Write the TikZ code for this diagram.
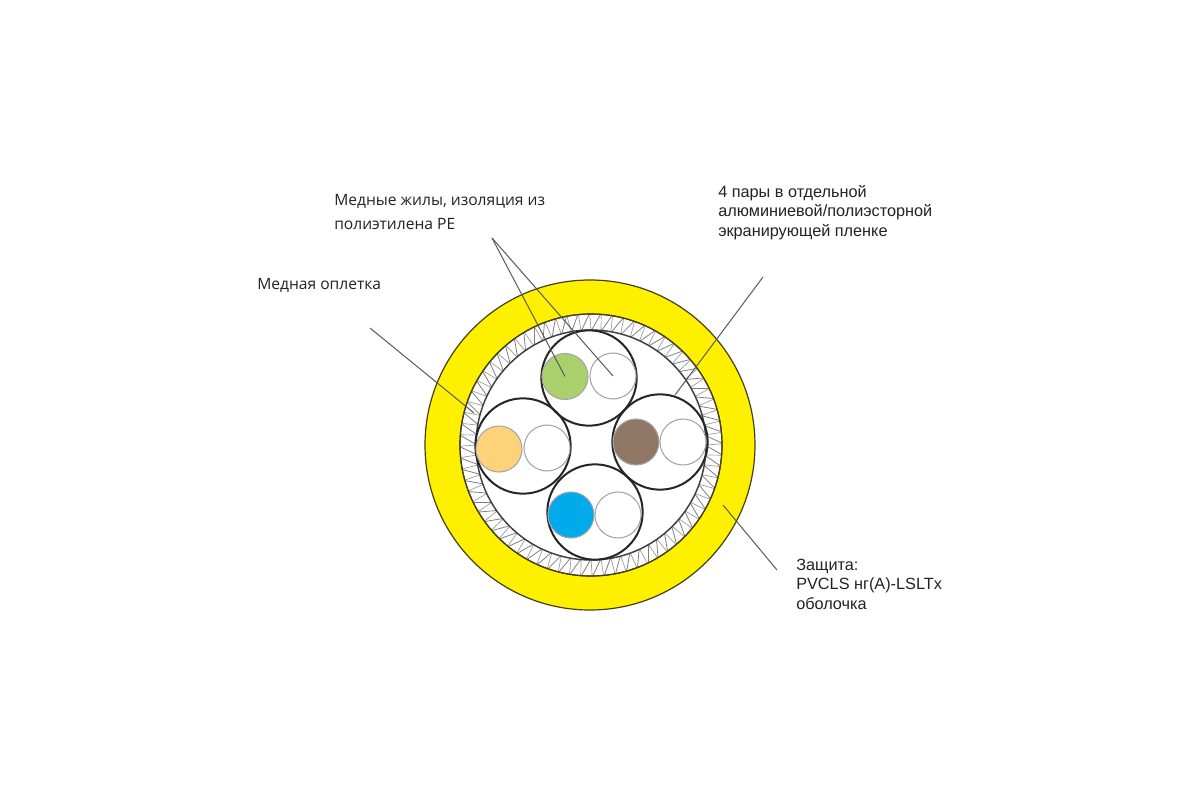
\documentclass[tikz,border=0pt]{standalone}
\usepackage{fontspec}
\setmainfont{Liberation Sans}
\newfontfamily\calfont{Open Sans}
\definecolor{jacket}{RGB}{255,240,0}
\definecolor{jedge}{RGB}{70,65,20}
\definecolor{gcore}{RGB}{170,208,110}
\definecolor{ocore}{RGB}{253,210,120}
\definecolor{bcore}{RGB}{144,118,100}
\definecolor{ccore}{RGB}{0,170,235}
\definecolor{leader}{RGB}{90,90,90}
\definecolor{txt}{RGB}{35,35,35}
\tikzset{
 x=0.75pt,y=-0.75pt,
 pairc/.style={circle,draw=black!85,line width=1.5pt,minimum size=71.5pt,inner sep=0pt},
 core/.style={circle,draw=black!35,line width=0.8pt,minimum size=34.5pt,inner sep=0pt},
 leaderl/.style={draw=leader,line width=0.75pt},
 lab/.style={anchor=north west,inner sep=0pt,text=txt,font=\fontsize{12.2}{14.5}\selectfont,align=left},
 labc/.style={anchor=north west,inner sep=0pt,text=txt,font=\calfont\fontsize{11.7}{18}\selectfont,align=left},
 hatch/.style={draw=black!50,line width=0.6pt},
 hatchb/.style={draw=black!40,line width=0.5pt}
}
\begin{document}
\begin{tikzpicture}
\useasboundingbox (0,0) rectangle (1200,800);
\fill[white] (0,0) rectangle (1200,800);
% jacket
\coordinate (cc) at (590,445);
\filldraw[fill=jacket,draw=jedge,line width=0.9pt] (cc) circle[radius=165];
\filldraw[fill=white,draw=jedge,line width=0.9pt] (591,445) circle[radius=131];
% braid
\begin{scope}
\clip (591,445) circle[radius=131];
\foreach \a in {0,5,...,355}{
  \draw[hatch] (591,445) ++(\a:114) -- ++(\a+30:22);
  \draw[hatchb] (591,445) ++(\a+5:114) -- ++(\a+5-4:22);
}
\end{scope}
\filldraw[fill=white,draw=black!75,line width=1.1pt] (591,445) circle[radius=115];
\draw[jedge,line width=0.9pt] (591,445) circle[radius=131];
% pairs
\node[pairc] (p1) at (589,378) {};
\node[pairc] (p2) at (660,442) {};
\node[pairc] (p3) at (523,446) {};
\node[pairc] (p4) at (595,512) {};
\node[core,fill=gcore] (g) at (565,376.5) {};
\node[core,fill=white] (gw) at (613,376) {};
\node[core,fill=ocore] (o) at (499,449) {};
\node[core,fill=white] (ow) at (547,448) {};
\node[core,fill=bcore] (b) at (636,442) {};
\node[core,fill=white] (bw) at (683,442) {};
\node[core,fill=ccore] (c) at (571,515) {};
\node[core,fill=white] (cw) at (618,515) {};
% leaders
\coordinate (a1) at (492,238);
\coordinate (a2) at (370,328);
\coordinate (a3) at (763,277);
\coordinate (a4) at (777,570);
\coordinate (e2) at (474,413);
\coordinate (e3) at (675,395);
\coordinate (e4) at (723,505);
\draw[leaderl] (a1) -- (g.center);
\draw[leaderl] (a1) -- (gw.center);
\draw[leaderl] (a2) -- (e2);
\draw[leaderl] (a3) -- (e3);
\draw[leaderl] (a4) -- (e4);
% labels
\node[labc] (t1) at (334,194) {Медные жилы, изоляция из\\полиэтилена PE};
\node[labc] (t2) at (257,278) {Медная оплетка};
\node[lab] (t3) at (718,185) {4 пары в отдельной\\алюминиевой/полиэсторной\\экранирующей пленке};
\node[lab] (t4) at (796,559) {Защита:\\PVCLS нг(A)-LSLTx\\оболочка};
\end{tikzpicture}
\end{document}
